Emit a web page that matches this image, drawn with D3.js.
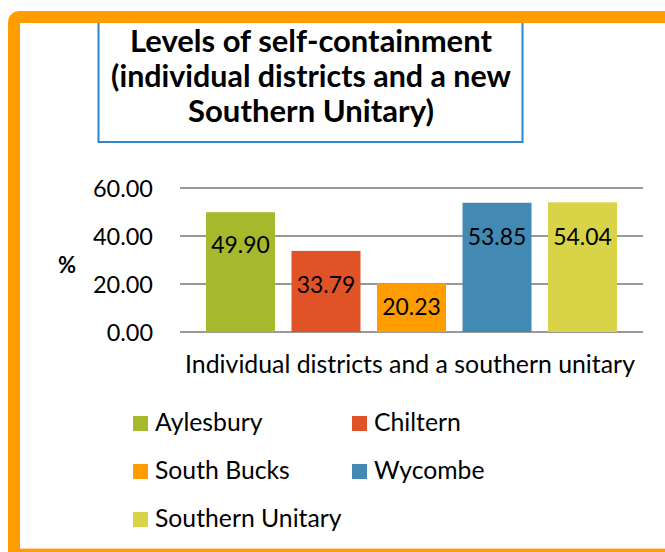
<!DOCTYPE html>
<html>
<head>
<meta charset="utf-8">
<script src="https://cdn.jsdelivr.net/npm/d3@7"></script>
<style>
  html, body { margin: 0; padding: 0; background: #fff; }
  svg { display: block; }
</style>
</head>
<body>
<svg id="chart" width="665" height="552"></svg>
<script>
// ---- data ----
const categories = ["Aylesbury", "Chiltern", "South Bucks", "Wycombe", "Southern Unitary"];
const values = [49.90, 33.79, 20.23, 53.85, 54.04];
const colors = ["#A6B82B", "#E05327", "#FF9D00", "#428AB4", "#D9D447"];
const yTicks = [0, 20, 40, 60];
const titleLines = ["Levels of self-containment", "(individual districts and a new", "Southern Unitary)"];
const xAxisTitle = "Individual districts and a southern unitary";
const yAxisTitle = "%";

// ---- layout ----
const svg = d3.select("#chart");
const FONT = "Lato, 'Open Sans', sans-serif";

function fit(sel, w) {
  const node = sel.node();
  const cur = parseFloat(sel.attr("font-size"));
  const len = node.getComputedTextLength();
  if (len > 0) sel.attr("font-size", (cur * w / len).toFixed(2));
  return sel;
}
function fitGroup(sels, widths) {
  let ratio = 0;
  sels.forEach((s, i) => { ratio += widths[i] / s.node().getComputedTextLength(); });
  ratio /= sels.length;
  sels.forEach(s => s.attr("font-size", (parseFloat(s.attr("font-size")) * ratio).toFixed(2)));
}

// orange frame
svg.append("path")
  .attr("d", "M14,552 L14,23 Q14,17 20,17 L680,17")
  .attr("fill", "none").attr("stroke", "#FF9D00").attr("stroke-width", 12);
svg.append("rect").attr("x", 20).attr("y", 549).attr("width", 660).attr("height", 3).attr("fill", "#FF9D00");
svg.append("rect").attr("x", 20).attr("y", 548).attr("width", 660).attr("height", 1).attr("fill", "#FFD9A0");

// title box
svg.append("rect").attr("x", 98.5).attr("y", 18).attr("width", 424).attr("height", 124)
  .attr("fill", "#fff").attr("stroke", "#2D86CC").attr("stroke-width", 2);
svg.append("rect").attr("x", 90).attr("y", 11).attr("width", 590).attr("height", 12).attr("fill", "#FF9D00");

const titleW = [362, 400, 246];
titleLines.forEach((t, i) => {
  const s = svg.append("text").attr("x", 311).attr("y", 52 + i * 35)
    .attr("text-anchor", "middle").attr("font-family", FONT).attr("font-weight", "bold")
    .attr("font-size", 26).attr("fill", "#000").text(t);
  fit(s, titleW[i]);
});

// scales
const y = d3.scaleLinear().domain([0, 60]).range([332, 188]);
const x = d3.scaleBand().domain(categories).range([197.75, 625.25])
  .paddingInner(0.193).paddingOuter(0.0965);

// gridlines
svg.append("g").selectAll("line").data(yTicks).join("line")
  .attr("x1", 180).attr("x2", 643)
  .attr("y1", d => y(d)).attr("y2", d => y(d))
  .attr("stroke", "#999").attr("stroke-width", 2);

// y axis labels
const yAxis = d3.axisLeft(y).tickValues(yTicks).tickFormat(d3.format(".2f")).tickSize(0).tickPadding(0);
const yg = svg.append("g").attr("transform", "translate(153,0)").call(yAxis);
yg.select(".domain").remove();
yg.selectAll("text").attr("font-family", FONT).attr("font-size", 18).attr("fill", "#000").attr("dy", "0.36em");
const t60 = yg.selectAll("text").filter(d => d === 60);
const r = 60 / t60.node().getComputedTextLength();
yg.selectAll("text").attr("font-size", (18 * r).toFixed(2));

svg.append("text").attr("x", 67).attr("y", 273).attr("text-anchor", "middle")
  .attr("font-family", FONT).attr("font-weight", "bold").attr("font-size", 22).text(yAxisTitle);

// bars
svg.append("g").selectAll("rect").data(values).join("rect")
  .attr("x", (d, i) => x(categories[i]))
  .attr("width", x.bandwidth())
  .attr("y", d => y(d))
  .attr("height", d => y(0) - y(d))
  .attr("fill", (d, i) => colors[i]);

// value labels (placed as in the reference)
const labelAt = [36.3, 19.6, 10.4, 39.6, 39.6];
const vl = svg.append("g").selectAll("text").data(values).join("text")
  .attr("x", (d, i) => x(categories[i]) + x.bandwidth() / 2)
  .attr("y", (d, i) => y(labelAt[i]))
  .attr("dy", "0.36em")
  .attr("text-anchor", "middle")
  .attr("font-family", FONT).attr("font-size", 20).attr("fill", "#000")
  .text(d => d3.format(".2f")(d));
const vlSel = []; vl.each(function() { vlSel.push(d3.select(this)); });
fitGroup(vlSel, [61, 56, 58, 58, 60]);

// x axis title
const xt = svg.append("text").attr("x", 410).attr("y", 373).attr("text-anchor", "middle")
  .attr("font-family", FONT).attr("font-size", 22).attr("fill", "#000").text(xAxisTitle);
fit(xt, 450);

// legend
const legendPos = [[133, 416], [352, 416], [133, 464], [352, 464], [133, 512]];
const legendW = [108, 86, 135, 110, 188];
const lg = svg.append("g");
const lt = [];
categories.forEach((c, i) => {
  const [lx, ly] = legendPos[i];
  lg.append("rect").attr("x", lx).attr("y", ly).attr("width", 15).attr("height", 15).attr("fill", colors[i]);
  lt.push(lg.append("text").attr("x", lx + 22).attr("y", ly + 14.5)
    .attr("font-family", FONT).attr("font-size", 22).attr("fill", "#000").text(c));
});
fitGroup(lt, legendW);
</script>
</body>
</html>
